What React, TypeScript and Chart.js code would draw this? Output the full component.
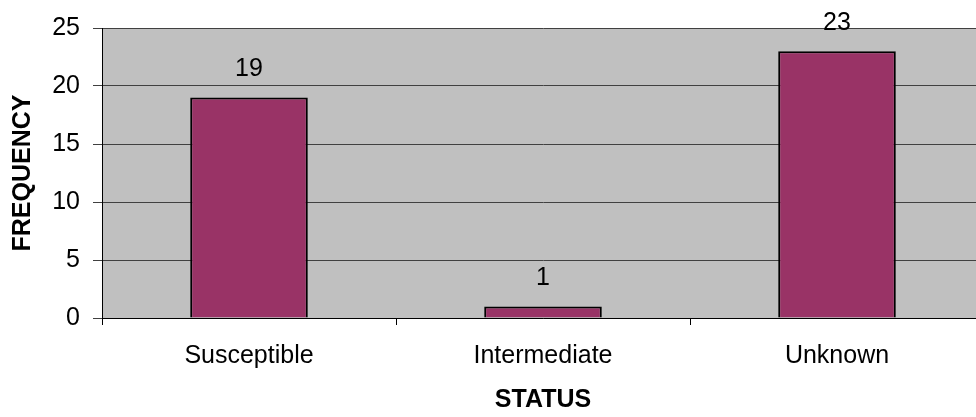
import React, { useEffect, useRef } from "react";
import { Chart, registerables } from "chart.js";

Chart.register(...registerables);

const categories = ["Susceptible", "Intermediate", "Unknown"];
const frequency = [19, 1, 23];
const yTicks = [0, 5, 10, 15, 20, 25];
const xTitle = "STATUS";
const yTitle = "FREQUENCY";

const FONT = "'Liberation Sans', Arial, sans-serif";

const bgPlugin = {
  id: "plotBg",
  beforeDraw(chart: any) {
    const { ctx, chartArea } = chart;
    ctx.save();
    ctx.fillStyle = "#C0C0C0";
    ctx.fillRect(chartArea.left, chartArea.top, chartArea.right - chartArea.left, chartArea.bottom - chartArea.top);
    ctx.restore();
  },
};

const labelPlugin = {
  id: "valueLabels",
  afterDatasetsDraw(chart: any) {
    const { ctx } = chart;
    const meta = chart.getDatasetMeta(0);
    ctx.save();
    ctx.font = `25px ${FONT}`;
    ctx.fillStyle = "#000";
    ctx.textAlign = "center";
    ctx.textBaseline = "middle";
    meta.data.forEach((bar: any, i: number) => {
      ctx.fillText(String(frequency[i]), bar.x, bar.y - 28);
    });
    ctx.restore();
  },
};

export default function App() {
  const ref = useRef<HTMLCanvasElement>(null);
  useEffect(() => {
    if (!ref.current) return;
    const chart = new Chart(ref.current, {
      type: "bar",
      data: {
        labels: categories,
        datasets: [
          {
            data: frequency,
            backgroundColor: "#993366",
            borderColor: "#000000",
            borderWidth: 2,
            barPercentage: 0.4,
            categoryPercentage: 1,
          },
        ],
      },
      options: {
        animation: false,
        responsive: false,
        devicePixelRatio: 1,
        layout: { padding: 0 },
        plugins: { legend: { display: false }, tooltip: { enabled: false } },
        scales: {
          x: {
            grid: { display: true, drawOnChartArea: false, drawTicks: true, tickLength: 7, color: "#000", offset: true },
            border: { display: true, color: "#000", width: 1 },
            ticks: { color: "#000", font: { family: FONT, size: 25 }, padding: 16, maxRotation: 0 },
            title: { display: true, text: xTitle, color: "#000", font: { family: FONT, size: 25, weight: "bold" }, padding: { top: 0, bottom: 2 } },
            afterFit(scale: any) {
              scale.height = 99;
            },
          },
          y: {
            min: 0,
            max: 25,
            afterBuildTicks(scale: any) {
              scale.ticks = yTicks.map((v) => ({ value: v }));
            },
            grid: { color: "#404040", lineWidth: 1, tickLength: 9 },
            border: { display: true, color: "#000", width: 1 },
            ticks: { color: "#000", font: { family: FONT, size: 25 }, padding: 13 },
            title: { display: true, text: yTitle, color: "#000", font: { family: FONT, size: 25, weight: "bold" }, padding: { top: 8, bottom: 0 } },
            afterFit(scale: any) {
              scale.width = 102;
            },
          },
        },
      },
      plugins: [bgPlugin, labelPlugin],
    } as any);
    return () => chart.destroy();
  }, []);
  return (
    <div style={{ position: "fixed", left: 0, top: 0, width: 984, height: 417 }}>
      <canvas ref={ref} width={984} height={417} style={{ display: "block" }} />
    </div>
  );
}
